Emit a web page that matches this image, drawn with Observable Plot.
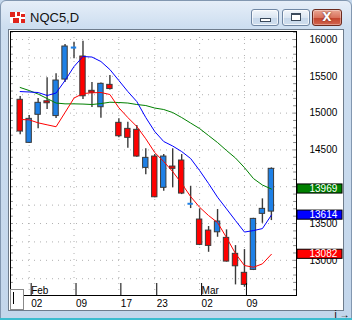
<!DOCTYPE html>
<html><head><meta charset="utf-8">
<script src="https://cdn.jsdelivr.net/npm/d3@7"></script>
<script src="https://cdn.jsdelivr.net/npm/@observablehq/plot@0.6"></script>
<style>
html,body{margin:0;padding:0;width:352px;height:320px;overflow:hidden;background:#c4d7ec;}
#win{position:absolute;left:0;top:0;width:350px;height:317px;border:1px solid #8297b0;border-radius:6px 6px 0 0;background:linear-gradient(#e6eef8 0,#cddef0 26px,#c3d6eb 100%);}
#bottomline{position:absolute;left:0;top:318px;width:352px;height:2px;background:#3cbccf;}
#client{position:absolute;left:8px;top:29px;width:334px;height:280px;background:#fff;border:1px solid #6e7c8c;}
#title{position:absolute;left:30px;top:10px;font:13px "Liberation Sans",Arial,sans-serif;color:#111;}
#icon{position:absolute;left:10px;top:12px;width:15px;height:11px;background:#fff;}
#icon i{position:absolute;background:#e0241c;}
.btn{position:absolute;top:9px;height:15px;border:1px solid #6f86a3;border-radius:3px;background:linear-gradient(#f2f6fb,#dbe6f2 50%,#c6d7ea 51%,#cfdeee);box-shadow:inset 0 0 0 1px rgba(255,255,255,.7);}
#bmin{left:251px;width:26px;}
#bmax{left:282px;width:26px;}
#bclose{left:312px;width:28px;border-color:#6b2a1e;background:linear-gradient(#eaa693,#d9735d 50%,#c2432c 51%,#d2654e);box-shadow:inset 0 0 0 1px rgba(255,255,255,.35);color:#fff;font:bold 12px "DejaVu Sans",sans-serif;text-align:center;line-height:15px;text-shadow:0 0 2px #5a1a10;}
#gmin{position:absolute;left:8px;top:8px;width:9px;height:2px;background:#fff;border:1px solid #3b4a5c;}
#gmax{position:absolute;left:8px;top:3px;width:8px;height:5px;background:#fff;border:1px solid #3b4a5c;border-top-width:2px;}
#chart{position:absolute;left:0;top:0;}
#cbox{position:absolute;left:10px;top:289px;width:12px;height:19px;border:1px solid #8a8a8a;background:#fff;}
#cbox i{position:absolute;left:2px;top:2px;width:1px;height:12px;background:#000;}
</style></head>
<body>
<div id="win"></div>
<div id="bottomline"></div>
<div id="icon"><i style="left:0;top:0;width:5px;height:5px"></i><i style="left:7px;top:0;width:3px;height:4px"></i><i style="left:11px;top:2px;width:4px;height:3px"></i><i style="left:3px;top:6px;width:6px;height:5px"></i><i style="left:11px;top:7px;width:4px;height:4px"></i></div>
<div id="title">NQC5,D</div>
<div class="btn" id="bmin"><div id="gmin"></div></div>
<div class="btn" id="bmax"><div id="gmax"></div></div>
<div class="btn" id="bclose">X</div>
<div id="client"></div>
<div id="chart"></div>
<div id="cbox"><i></i></div>
<script>
// Trading days (index 0 = Jan 30)
const dates = ["Jan 30","Feb 02","Feb 03","Feb 04","Feb 05","Feb 06","Feb 09","Feb 10","Feb 11","Feb 12","Feb 13","Feb 17","Feb 18","Feb 19","Feb 20","Feb 23","Feb 24","Feb 25","Feb 26","Feb 27","Mar 02","Mar 03","Mar 04","Mar 05","Mar 06","Mar 09","Mar 10","Mar 11","Mar 12"];
const open  = [15181,14596,14977,15161,14960,15456,15870,15769,15303,15080,15384,14868,14786,14773,14256,14410,13985,14274,14356,13748,13554,13404,13381,13305,13088,12830,12870,13631,13662];
const high  = [15225,14967,15198,15479,15534,15932,15963,15977,15416,15409,15511,14922,14876,14831,14515,14437,14437,14515,14437,14006,13699,13459,13690,13414,13200,13146,13571,13835,14256];
const low   = [14705,14587,14786,15049,14926,15416,15738,15185,15076,14930,15314,14664,14523,14400,14161,13849,13938,13985,13893,13703,13200,13109,13313,12976,12666,12634,12861,13503,13540];
const close = [14750,14922,15140,15134,15443,15905,15898,15229,15276,15398,15327,14686,14664,14410,14392,13857,14410,14243,13907,13775,13210,13196,13527,12983,12919,12666,13563,13699,14243];
// Moving averages
const maRed   = [14913,14909,14868,14841,14815,15008,15205,15266,15276,15280,15253,15072,14940,14818,14651,14464,14342,14206,14043,13866,13721,13608,13513,13309,13092,12929,12906,12952,13082];
const maBlue  = [15293,15287,15280,15239,15273,15443,15633,15769,15762,15701,15592,15443,15293,15157,14940,14750,14614,14553,14478,14383,14220,14043,13857,13699,13540,13384,13404,13431,13614];
const maGreen = [15348,15307,15259,15198,15137,15126,15126,15123,15117,15130,15148,15144,15137,15117,15103,15069,15049,15008,14940,14865,14790,14695,14600,14492,14390,14260,14111,14023,13969];
// Axis labels (14000 is hidden under the green value box in the reference)
const yTicks = [13000,13500,14500,15000,15500,16000];
const gridY = [12750,13000,13250,13500,13750,14000,14250,14500,14750,15000,15250,15500,15750,16000];
const minorY = d3.range(12600, 16101, 100);
const dayTickIdx = [1,6,11,15,20,25];
const dayLabels = ["02","09","17","23","02","09"];
const monthIdx = [1,20];
const monthLabels = ["Feb","Mar"];
// Last values boxes
const lastVals = [maGreen[28], maBlue[28], maRed[28]];
const lastCols = ["#008000","#0000ff","#ff0000"];

const candles = dates.map((d,i)=>({i, o:open[i], h:high[i], l:low[i], c:close[i]}));
const blueC = "#1e80e6", redC = "#ff0000", wickC = "#3a3a3a";
const ma = (arr) => arr.map((v,i)=>({i, v}));

const chart = Plot.plot({
  width: 352, height: 320,
  marginLeft: 10, marginRight: 56, marginTop: 31, marginBottom: 25,
  x: {type: "linear", domain: [-1.08, 30.8], axis: null},
  y: {domain: [12522, 16109], axis: null},
  style: {background: "transparent", fontFamily: "'Liberation Sans', Arial, sans-serif", fontSize: "10px", color: "black"},
  marks: [
    Plot.ruleY(gridY, {stroke: "#b0b0b0", strokeDasharray: "1,5"}),
    Plot.ruleX(dayTickIdx, {stroke: "#b0b0b0", strokeDasharray: "1,5"}),
    Plot.ruleY(minorY, {x1: -1.08, x2: -0.76, stroke: "#8c8c8c"}),
    Plot.ruleY(minorY, {x1: 30.48, x2: 30.8, stroke: "#8c8c8c"}),
    Plot.ruleX(candles, {x: "i", y1: "l", y2: "h", stroke: wickC, strokeWidth: 1.4}),
    Plot.rect(candles, {
      x1: d => d.i - 0.3, x2: d => d.i + 0.3, y1: "o", y2: "c",
      fill: d => d.c >= d.o ? blueC : redC,
      stroke: d => (d.c >= d.o && d.c - d.o < 40) ? "none" : wickC, strokeWidth: 1
    }),
    Plot.line(ma(maGreen), {x: "i", y: "v", stroke: "#008000", strokeWidth: 1}),
    Plot.line(ma(maBlue), {x: "i", y: "v", stroke: "#0000ff", strokeWidth: 1}),
    Plot.line(ma(maRed), {x: "i", y: "v", stroke: "#ff0000", strokeWidth: 1}),
    Plot.frame({stroke: "black"}),
    Plot.axisY({ticks: yTicks, anchor: "right", tickSize: 0, tickPadding: 13, tickFormat: d => String(d), fontSize: 10}),
    Plot.axisX({ticks: dayTickIdx, anchor: "bottom", tickSize: 13, tickPadding: 3, dy: -12, dx: 2, textAnchor: "start",
      tickFormat: i => dayLabels[dayTickIdx.indexOf(i)], fontSize: 10, stroke: "black"}),
    Plot.text(monthIdx, {x: d => d, frameAnchor: "bottom", lineAnchor: "bottom", dy: -2, dx: 2, textAnchor: "start",
      text: (d, k) => monthLabels[k], fontSize: 10, fill: "black"}),
    Plot.rect(lastVals, {x1: 30.91, x2: 35.93, y1: d => d - 62, y2: d => d + 62,
      fill: (d, k) => lastCols[k], stroke: "black", strokeWidth: 1}),
    Plot.text(lastVals, {y: d => d, frameAnchor: "right", dx: 13, textAnchor: "start", text: d => String(d),
      fill: "white", fontSize: 10})
  ]
});
document.getElementById("chart").appendChild(chart);
</script>
</body></html>
